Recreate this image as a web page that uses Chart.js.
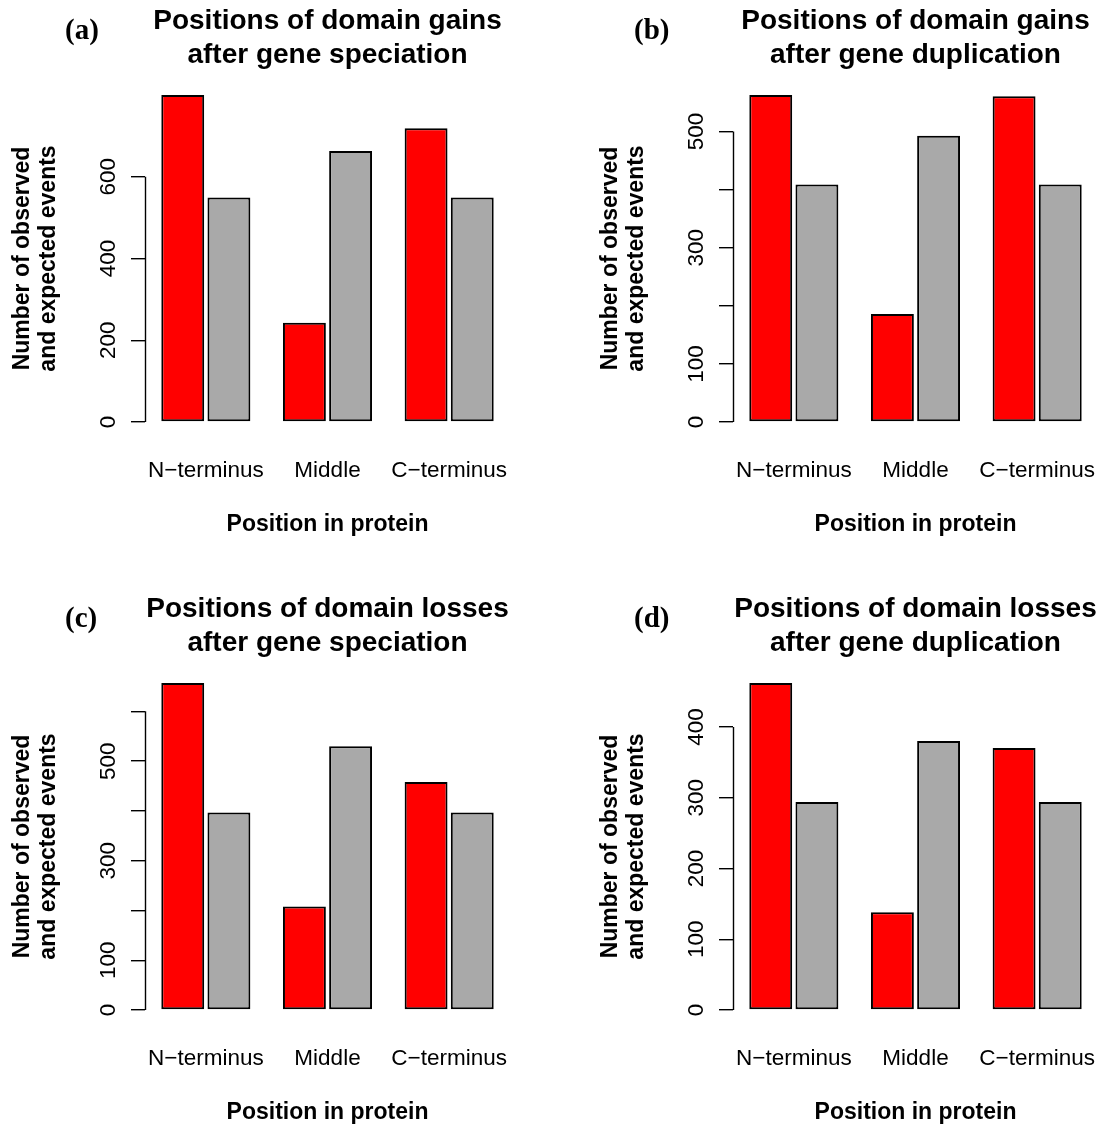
<!DOCTYPE html>
<html>
<head>
<meta charset="utf-8">
<title>Positions of domain gains and losses</title>
<script src="https://cdn.jsdelivr.net/npm/chart.js@4.4.1/dist/chart.umd.min.js"></script>
<style>
    html, body { margin: 0; padding: 0; background: #fff; overflow: hidden; }
    body { position: relative; width: 1101px; height: 1124px; }
    .panel { position: absolute; width: 560px; height: 562px; }
    .tag {
        position: absolute;
        font-family: "Liberation Serif", "DejaVu Serif", serif;
        font-weight: bold;
        font-size: 29px;
        line-height: 34px;
        color: #000;
    }
</style>
</head>
<body>
<div class="panel" style="left:0;top:0"><canvas id="chartA" width="560" height="562"></canvas></div>
<div class="panel" style="left:588px;top:0"><canvas id="chartB" width="560" height="562"></canvas></div>
<div class="panel" style="left:0;top:588px"><canvas id="chartC" width="560" height="562"></canvas></div>
<div class="panel" style="left:588px;top:588px"><canvas id="chartD" width="560" height="562"></canvas></div>
<div class="tag" style="left:65px;top:12px">(a)</div>
<div class="tag" style="left:634px;top:12px">(b)</div>
<div class="tag" style="left:65px;top:600px">(c)</div>
<div class="tag" style="left:634px;top:600px">(d)</div>
<script>
const categories = ['N\u2212terminus', 'Middle', 'C\u2212terminus'];

// (a) gains after speciation
const gainSpecObserved = [795, 241, 714];
const gainSpecExpected = [546, 659, 546];
const gainSpecTicks = ['0', '200', '400', '600'];

// (b) gains after duplication
const gainDupObserved = [563, 186, 561];
const gainDupExpected = [409, 493, 409];
const gainDupTicks = ['0', '100', '', '300', '', '500'];

// (c) losses after speciation
const lossSpecObserved = [657, 208, 458];
const lossSpecExpected = [397, 530, 397];
const lossSpecTicks = ['0', '100', '', '300', '', '500', ''];

// (d) losses after duplication
const lossDupObserved = [462, 138, 370];
const lossDupExpected = [294, 380, 294];
const lossDupTicks = ['0', '100', '200', '300', '400'];

const FONT = '"Liberation Sans", Arial, Helvetica, sans-serif';
Chart.defaults.font.family = FONT;
Chart.defaults.color = '#000';

// R style axis line: only from the first to the last tick
const axisLine = {
    id: 'axisLine',
    afterDraw(chart) {
        const y = chart.scales.y;
        const ticks = y.ticks;
        const top = y.getPixelForValue(ticks[ticks.length - 1].value);
        const bottom = y.getPixelForValue(ticks[0].value);
        const x = Math.floor(y.right) + 0.5;
        const ctx = chart.ctx;
        ctx.save();
        ctx.strokeStyle = '#000';
        ctx.lineWidth = 1.4;
        ctx.beginPath();
        ctx.moveTo(x, top);
        ctx.lineTo(x, bottom);
        ctx.stroke();
        ctx.restore();
    }
};

function makeChart(id, titleLines, observed, expected, step, tickLabels) {
    const ctx = document.getElementById(id).getContext('2d');
    const barStyle = {
        borderColor: '#000',
        borderWidth: 2,
        borderSkipped: false,
        categoryPercentage: 0.759,
        barPercentage: 0.929
    };
    return new Chart(ctx, {
        type: 'bar',
        data: {
            labels: categories,
            datasets: [
                Object.assign({ label: 'Observed', data: observed, backgroundColor: '#FF0000' }, barStyle),
                Object.assign({ label: 'Expected', data: expected, backgroundColor: '#A9A9A9' }, barStyle)
            ]
        },
        options: {
            responsive: false,
            animation: false,
            layout: { padding: { left: 0, right: 50, top: 0, bottom: 0 } },
            plugins: {
                legend: { display: false },
                tooltip: { enabled: false },
                title: {
                    display: true,
                    text: titleLines,
                    fullSize: false,
                    color: '#000',
                    font: { size: 28, weight: 'bold', lineHeight: '34px' },
                    padding: { top: 4, bottom: 23 }
                }
            },
            scales: {
                x: {
                    grid: { display: false, drawTicks: false },
                    border: { display: false },
                    ticks: { color: '#000', font: { size: 22.5 }, padding: 35 },
                    title: {
                        display: true,
                        text: 'Position in protein',
                        color: '#000',
                        font: { size: 23, weight: 'bold' },
                        padding: { top: 0, bottom: 24 }
                    },
                    afterFit: function (scale) { scale.height = 140; }
                },
                y: {
                    min: 0,
                    max: Math.max(...observed, ...expected),
                    grid: { drawOnChartArea: false, drawTicks: true, tickLength: 14, color: '#000', lineWidth: 1.4 },
                    border: { display: false },
                    ticks: {
                        stepSize: step,
                        includeBounds: false,
                        autoSkip: false,
                        minRotation: 90,
                        maxRotation: 90,
                        crossAlign: 'center',
                        padding: 3,
                        color: '#000',
                        font: { size: 22.5 },
                        callback: function (value, index) { return tickLabels[index]; }
                    },
                    title: {
                        display: true,
                        text: ['Number of observed', 'and expected events'],
                        color: '#000',
                        font: { size: 23, weight: 'bold', lineHeight: '26px' },
                        padding: { top: 10, bottom: 0 }
                    },
                    afterFit: function (scale) { scale.width = 145; }
                }
            }
        },
        plugins: [axisLine]
    });
}

makeChart('chartA', ['Positions of domain gains', 'after gene speciation'], gainSpecObserved, gainSpecExpected, 200, gainSpecTicks);
makeChart('chartB', ['Positions of domain gains', 'after gene duplication'], gainDupObserved, gainDupExpected, 100, gainDupTicks);
makeChart('chartC', ['Positions of domain losses', 'after gene speciation'], lossSpecObserved, lossSpecExpected, 100, lossSpecTicks);
makeChart('chartD', ['Positions of domain losses', 'after gene duplication'], lossDupObserved, lossDupExpected, 100, lossDupTicks);
</script>
</body>
</html>
